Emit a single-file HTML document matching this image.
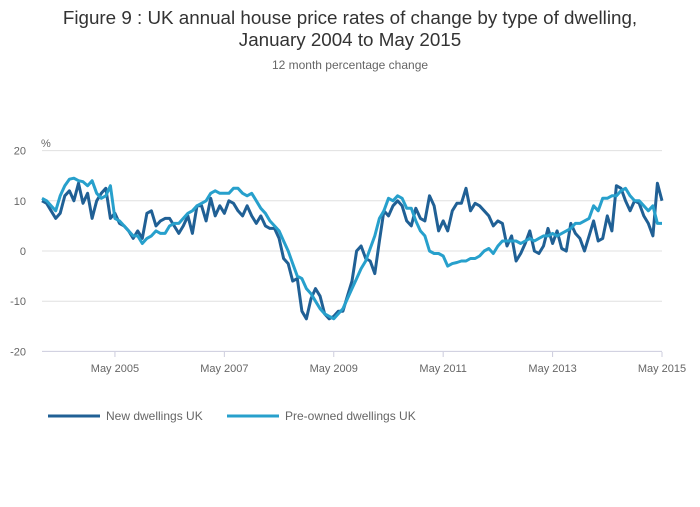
<!DOCTYPE html>
<html><head><meta charset="utf-8"><style>
body{margin:0;background:#fff;font-family:"Liberation Sans",sans-serif;}
svg text{font-family:"Liberation Sans",sans-serif;}
</style></head><body>
<svg width="700" height="502">
<text x="350" y="24" text-anchor="middle" font-size="18.8" fill="#333">Figure 9 : UK annual house price rates of change by type of dwelling,</text>
<text x="350" y="46" text-anchor="middle" font-size="18.8" fill="#333">January 2004 to May 2015</text>
<text x="350" y="69" text-anchor="middle" font-size="12" fill="#666">12 month percentage change</text>
<text x="41" y="147" font-size="11" fill="#666">%</text>
<g id="grid"></g><g id="lines"></g>
<g>
<line x1="48" y1="416" x2="100" y2="416" stroke="#206095" stroke-width="3"/>
<text x="106" y="420" font-size="12" fill="#666">New dwellings UK</text>
<line x1="227" y1="416" x2="279" y2="416" stroke="#27a0cc" stroke-width="3"/>
<text x="285" y="420" font-size="12" fill="#666">Pre-owned dwellings UK</text>
</g>
</svg>
<script>
const yTicks=[20,10,0,-10,-20];
const xTickLabels=["May 2005","May 2007","May 2009","May 2011","May 2013","May 2015"];
const xTickIndex=[16,40,64,88,112,136];
const newDwellings=[10,9.5,8,6.5,7.5,11,12,10,13.5,9.5,11.5,6.5,10,11.5,12.5,6.5,7.5,5.5,5,4,2.5,4,2.5,7.5,8,5,6,6.5,6.5,5,3.5,5,7,3.5,9,9,6,10.5,7,9,7.5,10,9.5,8,7,9,7,5.5,7,5,4.5,4.5,2.5,-1.5,-2.5,-6,-5.5,-12,-13.5,-9.5,-7.5,-9,-12.5,-13.5,-13,-12,-12,-9,-6,0,1,-1.5,-2,-4.5,2,8,7,9,10,9,6,5,8.5,6.5,6,11,9,4,6,4,8,9.5,9.5,12.5,8,9.5,9,8,7,5,6,5.5,1,3,-2,-0.5,1.5,4,0,-0.5,1,4.5,1.5,4,0.5,0,5.5,3.5,2.5,0,3,6,2,2.5,7,4,13,12.5,10,8,10,9.5,7,5.5,3,13.5,10];
const preOwned=[10.5,10,9,8,11,13,14.3,14.5,14,13.8,13,14,11.5,10.5,11,13,6.5,6,5,4,3,3,1.5,2.5,3,4,3.5,3.5,5,5.5,5.5,6.5,7.5,8,9,9.5,10,11.5,12,11.5,11.5,11.5,12.5,12.5,11.5,11,11.5,10,8.5,7.5,6,5,4,2,0,-2.5,-5,-5.5,-7.5,-8.5,-10,-11.5,-12.5,-13,-13.5,-12.5,-11.5,-9.5,-7.5,-5.5,-3.5,-2,0.5,3,6.5,8,10.5,10,11,10.5,8.5,8.5,6,4,3,0,-0.5,-0.5,-1,-3,-2.5,-2.3,-2,-2,-1.5,-1.5,-1,0,0.5,-0.5,1,2,2,2,2,1.5,2,2.5,2,2.5,3,3,3.5,3,3.5,4,4.5,5.5,5.5,6,6.5,9,8,10.5,10.5,11,11,12,12.5,11,10,10,9,8,9,5.5,5.5];
const x0=42,x1=662,nMonths=136;
const xs=i=>x0+(x1-x0)*i/nMonths;
const ys=v=>251-v*5.02;
const NS="http://www.w3.org/2000/svg";
const grid=document.getElementById('grid'),lines=document.getElementById('lines');
yTicks.forEach(t=>{
 const l=document.createElementNS(NS,'line');
 l.setAttribute('x1',x0);l.setAttribute('x2',x1);l.setAttribute('y1',ys(t));l.setAttribute('y2',ys(t));
 l.setAttribute('stroke',t===-20?'#ccd':'#e0e0e0');l.setAttribute('stroke-width','1');
 
 
 grid.appendChild(l);
 const tx=document.createElementNS(NS,'text');
 tx.setAttribute('x',26);tx.setAttribute('y',ys(t)+4);tx.setAttribute('text-anchor','end');
 tx.setAttribute('font-size','11');tx.setAttribute('fill','#666');tx.textContent=t;
 
 
 grid.appendChild(tx);
});
xTickIndex.forEach((idx,k)=>{
 const x=xs(idx);
 const l=document.createElementNS(NS,'line');
 l.setAttribute('x1',x);l.setAttribute('x2',x);l.setAttribute('y1',352);l.setAttribute('y2',357);
 l.setAttribute('stroke','#ccd');
 
 
 grid.appendChild(l);
 const tx=document.createElementNS(NS,'text');
 tx.setAttribute('x',x);tx.setAttribute('y',372);tx.setAttribute('text-anchor','middle');
 tx.setAttribute('font-size','11');tx.setAttribute('fill','#666');tx.textContent=xTickLabels[k];
 
 
 grid.appendChild(tx);
});
function draw(data,color,name){
 const p=document.createElementNS(NS,'path');
 p.setAttribute('d',data.map((v,i)=>(i?'L':'M')+xs(i).toFixed(1)+' '+ys(v).toFixed(1)).join(''));
 p.setAttribute('fill','none');p.setAttribute('stroke',color);p.setAttribute('stroke-width','3');
 p.setAttribute('stroke-linejoin','round');
 
 
 lines.appendChild(p);
}
draw(newDwellings,'#206095','new-dwellings-line');
draw(preOwned,'#27a0cc','preowned-dwellings-line');
</script>
</body></html>
